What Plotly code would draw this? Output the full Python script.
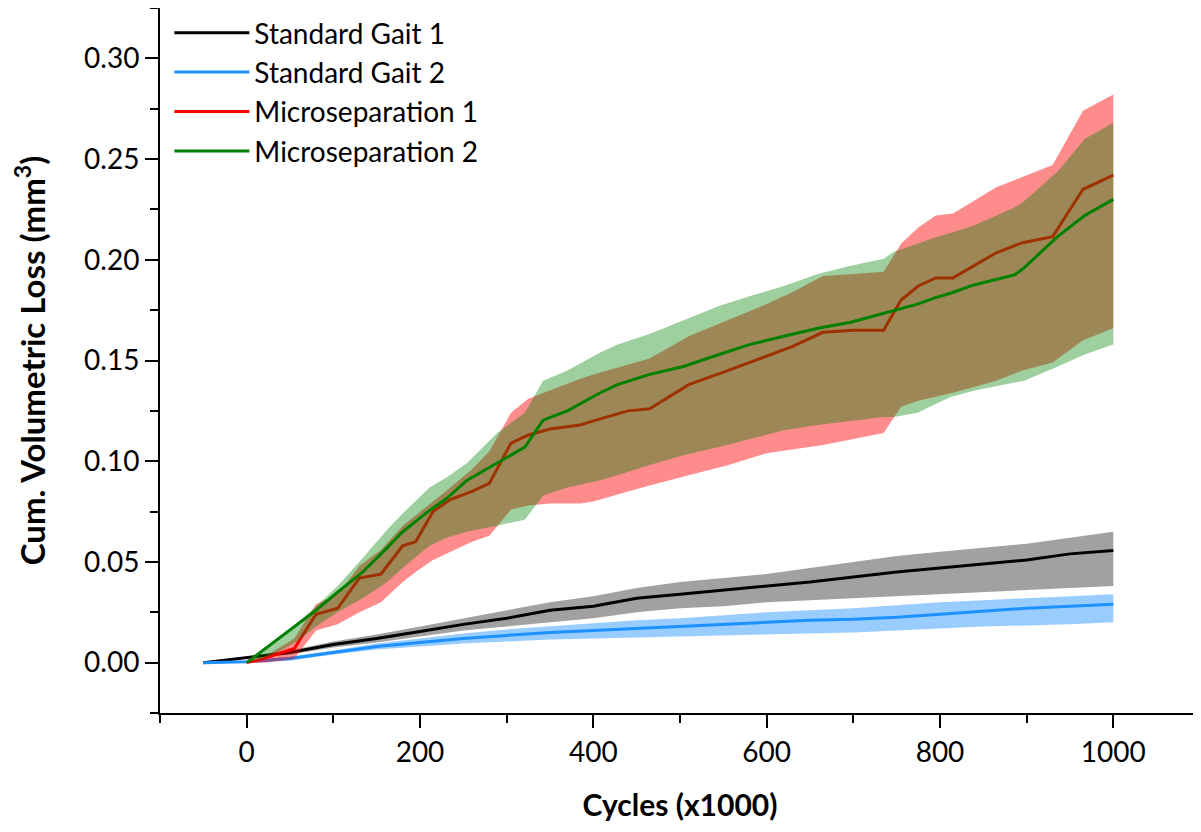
import plotly.graph_objects as go

# ---------------- data ----------------
SG_X = [-50, 0, 50, 100, 150, 200, 250, 300, 350, 400, 450, 500, 550, 600, 650, 700, 750, 800, 850, 900, 950, 1000]

SG1_MEAN = [0, 0.0025, 0.005, 0.009, 0.012, 0.0155, 0.019, 0.022, 0.026, 0.028, 0.032, 0.034, 0.036, 0.038, 0.040, 0.0425, 0.045, 0.047, 0.049, 0.051, 0.054, 0.0557]
SG1_UP = [0, 0.003, 0.006, 0.0105, 0.014, 0.018, 0.022, 0.026, 0.030, 0.033, 0.037, 0.040, 0.042, 0.044, 0.047, 0.050, 0.053, 0.055, 0.057, 0.059, 0.062, 0.065]
SG1_LO = [0, 0.002, 0.004, 0.0075, 0.010, 0.013, 0.016, 0.018, 0.020, 0.022, 0.025, 0.027, 0.028, 0.030, 0.031, 0.032, 0.033, 0.034, 0.035, 0.036, 0.037, 0.038]

SG2_MEAN = [0, 0.0005, 0.002, 0.005, 0.008, 0.010, 0.012, 0.0135, 0.015, 0.016, 0.017, 0.018, 0.019, 0.020, 0.021, 0.0215, 0.0225, 0.024, 0.0255, 0.027, 0.028, 0.029]
SG2_UP = [0, 0.001, 0.003, 0.006, 0.0095, 0.012, 0.0145, 0.0165, 0.018, 0.0195, 0.021, 0.022, 0.0235, 0.025, 0.026, 0.027, 0.0285, 0.030, 0.031, 0.032, 0.033, 0.034]
SG2_LO = [0, 0, 0.001, 0.004, 0.0065, 0.008, 0.0095, 0.0105, 0.0115, 0.012, 0.0125, 0.013, 0.0135, 0.014, 0.0145, 0.015, 0.016, 0.017, 0.018, 0.0185, 0.019, 0.020]

MS1_X = [0, 20, 40, 55, 80, 105, 130, 155, 180, 195, 215, 235, 260, 280, 305, 325, 350, 385, 400, 440, 465, 510, 555, 600, 630, 665, 700, 735, 755, 775, 795, 815, 865, 895, 930, 965, 1000]
MS1_MEAN = [0, 0.002, 0.005, 0.007, 0.024, 0.027, 0.042, 0.044, 0.058, 0.060, 0.075, 0.081, 0.085, 0.089, 0.109, 0.113, 0.116, 0.118, 0.120, 0.125, 0.126, 0.138, 0.145, 0.152, 0.157, 0.164, 0.165, 0.165, 0.180, 0.187, 0.191, 0.191, 0.2035, 0.2085, 0.2115, 0.235, 0.242]
MS1_UP = [0, 0.003, 0.008, 0.012, 0.029, 0.034, 0.048, 0.056, 0.068, 0.073, 0.080, 0.087, 0.096, 0.105, 0.124, 0.131, 0.135, 0.141, 0.143, 0.148, 0.151, 0.162, 0.170, 0.178, 0.184, 0.192, 0.193, 0.194, 0.208, 0.216, 0.222, 0.223, 0.236, 0.241, 0.247, 0.274, 0.282]
MS1_LO = [0, 0, 0.001, 0.002, 0.016, 0.019, 0.025, 0.030, 0.040, 0.045, 0.051, 0.055, 0.060, 0.063, 0.076, 0.078, 0.079, 0.079, 0.080, 0.085, 0.088, 0.093, 0.098, 0.104, 0.106, 0.108, 0.111, 0.114, 0.127, 0.130, 0.132, 0.134, 0.140, 0.145, 0.149, 0.160, 0.166]

MS2_X = [0, 20, 40, 60, 80, 105, 134, 162, 180, 211, 231, 254, 289, 321, 342, 370, 408, 428, 464, 504, 545, 581, 620, 659, 697, 735, 747, 774, 793, 813, 839, 886, 897, 936, 967, 1000]
MS2_MEAN = [0, 0.0065, 0.013, 0.0195, 0.026, 0.035, 0.045, 0.057, 0.065, 0.0756, 0.0816, 0.0905, 0.099, 0.107, 0.1204, 0.125, 0.134, 0.138, 0.143, 0.147, 0.153, 0.158, 0.162, 0.166, 0.169, 0.1735, 0.175, 0.178, 0.181, 0.1835, 0.1875, 0.1925, 0.196, 0.2116, 0.222, 0.230]
MS2_UP = [0, 0.006, 0.013, 0.020, 0.028, 0.038, 0.052, 0.066, 0.074, 0.087, 0.092, 0.099, 0.114, 0.124, 0.140, 0.145, 0.154, 0.158, 0.163, 0.170, 0.177, 0.182, 0.187, 0.193, 0.197, 0.2005, 0.204, 0.208, 0.211, 0.2134, 0.217, 0.226, 0.229, 0.244, 0.260, 0.268]
MS2_LO = [0, 0.002, 0.006, 0.011, 0.018, 0.025, 0.032, 0.040, 0.047, 0.058, 0.062, 0.065, 0.068, 0.071, 0.083, 0.087, 0.0905, 0.093, 0.098, 0.103, 0.107, 0.111, 0.1154, 0.118, 0.120, 0.122, 0.122, 0.124, 0.128, 0.132, 0.135, 0.139, 0.140, 0.147, 0.153, 0.158]

SERIES = [
    ("Standard Gait 1", SG_X, SG1_MEAN, SG1_UP, SG1_LO, "rgb(0,0,0)", "rgba(0,0,0,0.37)"),
    ("Standard Gait 2", SG_X, SG2_MEAN, SG2_UP, SG2_LO, "rgb(30,144,255)", "rgba(30,144,255,0.45)"),
    ("Microseparation 1", MS1_X, MS1_MEAN, MS1_UP, MS1_LO, "rgb(255,0,0)", "rgba(255,0,0,0.45)"),
    ("Microseparation 2", MS2_X, MS2_MEAN, MS2_UP, MS2_LO, "rgb(0,128,0)", "rgba(0,128,0,0.38)"),
]

FONT = "Lato, 'Open Sans', sans-serif"

fig = go.Figure()
for i, (name, xs, mean, up, lo, lc, fc) in enumerate(SERIES):
    grp = f"g{i}"
    fig.add_trace(go.Scatter(x=xs, y=lo, mode="lines", line=dict(width=0, color=fc),
                             legendgroup=grp, showlegend=False, hoverinfo="skip"))
    fig.add_trace(go.Scatter(x=xs, y=up, mode="lines", line=dict(width=0, color=fc),
                             fill="tonexty", fillcolor=fc, legendgroup=grp,
                             showlegend=False, hoverinfo="skip"))
    fig.add_trace(go.Scatter(x=xs, y=mean, mode="lines", name=name, legendgroup=grp,
                             line=dict(color=lc, width=3)))

# note: the page body has an 8px default margin, so the layout is offset by -8px
fig.update_layout(
    width=1201, height=832,
    margin=dict(l=152, r=9, t=0, b=127),
    paper_bgcolor="white", plot_bgcolor="white",
    font=dict(family=FONT, color="black", size=26),
    legend=dict(x=0.009, y=1.0, xanchor="left", yanchor="top", traceorder="normal",
                bgcolor="rgba(0,0,0,0)", font=dict(size=28, family=FONT),
                itemwidth=75, tracegroupgap=4),
    showlegend=True,
)

fig.update_xaxes(
    range=[-100, 1100], dtick=200, tick0=0,
    showline=True, linecolor="black", linewidth=2,
    ticks="outside", ticklen=13, tickwidth=2, tickcolor="black",
    minor=dict(dtick=100, tick0=-100, ticks="outside", ticklen=8, tickwidth=2, tickcolor="black"),
    showgrid=False, zeroline=False,
    tickfont=dict(size=28, family=FONT),
    title=dict(text="<b>Cycles (x1000)</b>", font=dict(size=30, family=FONT), standoff=28),
)
fig.update_yaxes(
    range=[-0.025, 0.325], dtick=0.05, tick0=0, tickformat=".2f",
    showline=True, linecolor="black", linewidth=2,
    ticks="outside", ticklen=13, tickwidth=2, tickcolor="black",
    minor=dict(dtick=0.025, tick0=0, ticks="outside", ticklen=8, tickwidth=2, tickcolor="black"),
    showgrid=False, zeroline=False,
    tickfont=dict(size=28, family=FONT),
    title=dict(text="<b>Cum. Volumetric Loss (mm<sup>3</sup>)</b>", font=dict(size=33, family=FONT), standoff=34),
)

fig.write_html("out.html")
